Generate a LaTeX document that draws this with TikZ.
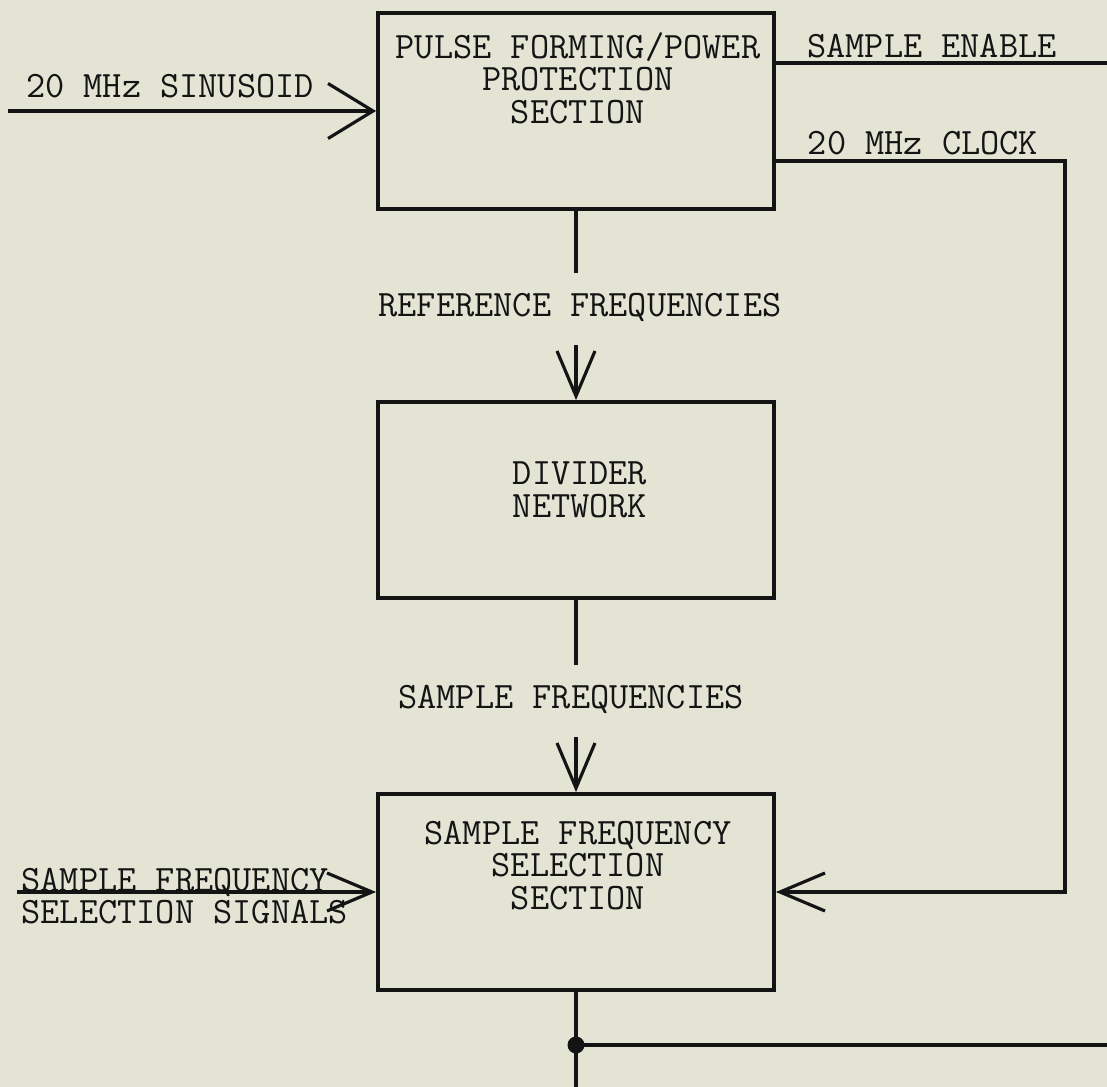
\documentclass[tikz,border=0pt]{standalone}
\usepackage{fontspec}
\usetikzlibrary{arrows.meta}
\definecolor{paper}{RGB}{227,228,212}
\definecolor{ink}{RGB}{20,20,20}
\newcommand\tallrule{\rule{0pt}{17pt}}
\tikzset{
  blk/.style={draw=ink,line width=2.2pt,minimum width=79.2mm,minimum height=39.2mm,inner sep=0pt},
  txt/.style={text=ink,inner sep=0pt,font=\ttfamily\fontsize{21.2}{18.5}\selectfont},
  jdot/.style={circle,fill=ink,inner sep=0pt,minimum size=3.4mm},
  openv/.tip={Straight Barb[length=9mm,width=7.6mm]},
  bigv/.tip={Straight Barb[length=9mm,width=11mm]}
}

\begin{document}
\begin{tikzpicture}[x=0.2mm,y=-0.2mm,line width=1.8pt,color=ink]
  \fill[paper] (0,0) rectangle (1107,1087);
  \useasboundingbox (0,0) rectangle (1107,1087);

  % blocks
  \node[blk] (pfp) at (576,111) {};
  \node[blk] (div) at (576,500) {};
  \node[blk] (sfs) at (576,892) {};

  \node[txt,align=center,anchor=north] (pfpt) at (578,26.6) {\tallrule PULSE FORMING/POWER\\PROTECTION\\SECTION};
  \node[txt,align=center,anchor=north] (divt) at (580,453.1) {\tallrule DIVIDER\\NETWORK};
  \node[txt,align=center,anchor=north] (sfst) at (578,812.6) {\tallrule SAMPLE FREQUENCY\\SELECTION\\SECTION};

  % signal names
  \node[txt,anchor=base] (sinus) at (170,98) {20 MHz SINUSOID};
  \node[txt,anchor=base] (senab) at (932,57.5) {SAMPLE ENABLE};
  \node[txt,anchor=base] (clock) at (923,154.5) {20 MHz CLOCK};
  \node[txt,anchor=base] (reff) at (580,316.5) {REFERENCE FREQUENCIES};
  \node[txt,anchor=base] (samf) at (571,708.5) {SAMPLE FREQUENCIES};
  \node[txt,align=left,anchor=north west] (selsig) at (20,860) {\tallrule SAMPLE FREQUENCY\\SELECTION SIGNALS};

  \coordinate (sinin) at (8,111);
  \coordinate (selin) at (17,892);
  \coordinate (enout) at (1107,63);
  \coordinate (clkc) at (1065,161);
  \coordinate (ref1) at (576,273);
  \coordinate (ref2) at (576,345);
  \coordinate (sam1) at (576,665);
  \coordinate (sam2) at (576,737);
  \coordinate (outd) at (576,1087);
  \coordinate (outr) at (1107,1045);
  \node[jdot] (jn) at (576,1045) {};

  \draw[-{bigv}] (sinin) -- (pfp.west);
  \draw (enout -| pfp.east) -- (enout);
  \draw[-{openv}] (clkc -| pfp.east) -- (clkc) |- (sfs.east);
  \draw (pfp.south) -- (ref1);
  \draw[-{openv}] (ref2) -- (div.north);
  \draw (div.south) -- (sam1);
  \draw[-{openv}] (sam2) -- (sfs.north);
  \draw[-{openv}] (selin) -- (sfs.west);
  \draw (sfs.south) -- (outd);
  \draw (jn.center) -- (outr);
\end{tikzpicture}
\end{document}
